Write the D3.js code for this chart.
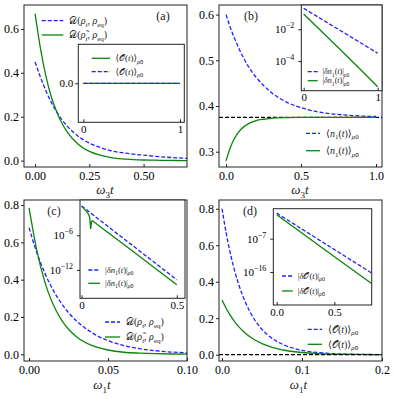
<!DOCTYPE html>
<html>
<head>
<meta charset="utf-8">
<script src="https://cdn.jsdelivr.net/npm/d3@7"></script>
<style>
  body { margin: 0; background: #fff; }
  text { font-family: "Liberation Serif", "DejaVu Serif", serif; }
</style>
</head>
<body>
<svg id="chart" width="396" height="399"></svg>
<script>
// ---- panel (a): trace distance, omega_3 t ----
const tA = [0, 0.025, 0.05, 0.075, 0.1, 0.125, 0.15, 0.2, 0.25, 0.3, 0.35, 0.4, 0.45, 0.5, 0.55, 0.6, 0.65, 0.7];
const distA = [0.45, 0.38, 0.318, 0.265, 0.222, 0.185, 0.155, 0.11, 0.08, 0.06, 0.045, 0.036, 0.03, 0.025, 0.02, 0.016, 0.013, 0.01];
const distTildeA = [0.67, 0.51, 0.385, 0.29, 0.222, 0.168, 0.128, 0.074, 0.042, 0.025, 0.014, 0.008, 0.005, 0.003, 0.002, 0.001, 0.0005, 0];
const insetTA = [0, 1];
const obsA = [0, 0];
const obsTildeA = [0, 0];

// ---- panel (b): <n1(t)>, omega_3 t ----
const tB = [0, 0.025, 0.05, 0.075, 0.1, 0.15, 0.2, 0.25, 0.3, 0.4, 0.5, 0.6, 0.7, 0.8, 0.9, 1.0];
const n1B = [0.6, 0.575, 0.553, 0.534, 0.516, 0.486, 0.463, 0.445, 0.43, 0.409, 0.3965, 0.388, 0.383, 0.38, 0.378, 0.377];
const n1TildeB = [0.28, 0.306, 0.325, 0.339, 0.349, 0.3615, 0.368, 0.371, 0.373, 0.3745, 0.375, 0.375, 0.375, 0.375, 0.375, 0.375];
const n1EqB = 0.375;
const insetTB = [0, 0.25, 0.5, 0.75, 1];
const dn1B = [0.21, 0.041, 0.0081, 0.0016, 3.1e-4];
const dn1TildeB = [0.092, 0.0067, 4.9e-4, 3.5e-5, 2.4e-6];

// ---- panel (c): trace distance, omega_1 t ----
const tC = [0, 0.005, 0.01, 0.015, 0.02, 0.025, 0.03, 0.04, 0.05, 0.06, 0.07, 0.08, 0.09, 0.1];
const distC = [0.678, 0.543, 0.435, 0.348, 0.279, 0.223, 0.179, 0.115, 0.073, 0.047, 0.03, 0.019, 0.012, 0.008];
const distTildeC = [0.785, 0.553, 0.387, 0.272, 0.191, 0.134, 0.094, 0.046, 0.023, 0.011, 0.006, 0.003, 0.0015, 0.0007];
const insetTC = [0, 0.1, 0.2, 0.3, 0.4, 0.5];
const dn1C = [0.12, 3.3e-4, 9.1e-7, 2.6e-9, 7.1e-12, 2.0e-14];
const insetTTildeC = [0, 0.01, 0.02, 0.03, 0.036, 0.042, 0.048, 0.052, 0.056, 0.06, 0.1, 0.2, 0.3, 0.4, 0.5];
const dn1TildeC = [0.1, 0.05, 0.022, 0.0089, 0.0043, 0.0016, 1.3e-5, 2e-4, 3.2e-4, 2.9e-4, 2.8e-5, 8.9e-8, 2.8e-10, 8.9e-13, 2.8e-15];

// ---- panel (d): <O(t)>, omega_1 t ----
const tD = [0, 0.005, 0.01, 0.015, 0.02, 0.03, 0.04, 0.05, 0.06, 0.08, 0.1, 0.12, 0.15, 0.2];
const obsD = [0.8, 0.672, 0.564, 0.473, 0.397, 0.28, 0.197, 0.139, 0.098, 0.049, 0.024, 0.012, 0.004, 0.0005];
const obsTildeD = [0.3, 0.256, 0.218, 0.186, 0.158, 0.115, 0.083, 0.061, 0.044, 0.023, 0.012, 0.006, 0.002, 0.0002];
const obsEqD = 0;
const insetTD = [0, 0.2, 0.4, 0.6, 0.82];
const dObsD = [0.8, 9.3e-5, 1.1e-8, 1.3e-12, 6.3e-17];
const dObsTildeD = [0.3, 9.1e-6, 2.8e-10, 8.3e-15, 8.9e-20];

const BLUE = '#1f1fff';
const GREEN = '#0a850a';
const INK = '#222';

const svg = d3.select('#chart');
svg.append('rect').attr('width', 396).attr('height', 399).attr('fill', '#fff');

let clipId = 0;

// rich text: parts are [string, mode], mode has 'i' italic, 's' subscript
function rich(sel, parts, size) {
  let down = false;
  parts.forEach(([s, m]) => {
    const sub = m.includes('s');
    const ts = sel.append('tspan').text(s);
    if (m.includes('i')) ts.attr('font-style', 'italic');
    if (sub) ts.attr('font-size', size * 0.7);
    if (sub && !down) { ts.attr('dy', size * 0.28); down = true; }
    else if (!sub && down) { ts.attr('dy', -size * 0.28); down = false; }
  });
}

function box(g, b) {
  g.append('rect')
    .attr('x', b.l).attr('y', b.t)
    .attr('width', b.r - b.l).attr('height', b.b - b.t)
    .attr('fill', 'none').attr('stroke', INK).attr('stroke-width', 1);
}

function clipFor(g, b) {
  const id = 'clip' + (clipId++);
  g.append('clipPath').attr('id', id).append('rect')
    .attr('x', b.l).attr('y', b.t).attr('width', b.r - b.l).attr('height', b.b - b.t);
  return g.append('g').attr('clip-path', `url(#${id})`);
}

function drawLine(g, x, y, xs, ys, color, dashed, curve) {
  const pts = xs.map((v, i) => [v, ys[i]]);
  g.append('path')
    .datum(pts)
    .attr('fill', 'none')
    .attr('stroke', color)
    .attr('stroke-width', 1.3)
    .attr('stroke-dasharray', dashed ? '4,2' : null)
    .attr('d', d3.line().x(d => x(d[0])).y(d => y(d[1])).curve(curve || d3.curveMonotoneX));
}

function hline(g, x, y, val, dom) {
  g.append('path')
    .datum(dom)
    .attr('fill', 'none').attr('stroke', '#000').attr('stroke-width', 1.3)
    .attr('stroke-dasharray', '4,2')
    .attr('d', d3.line().x(d => x(d)).y(() => y(val)));
}

function axes(g, b, x, y, o) {
  const fs = o.fs || 12;
  g.append('g')
    .attr('transform', `translate(0,${b.b})`)
    .call(d3.axisBottom(x).tickValues(o.xt).tickFormat(o.xf).tickSizeInner(-3).tickSizeOuter(0).tickPadding(o.xpad || 4))
    .call(a => a.select('.domain').remove())
    .call(a => a.selectAll('line').attr('stroke', INK))
    .attr('font-family', null).attr('font-size', fs).attr('fill', INK);
  const ya = g.append('g')
    .attr('transform', `translate(${b.l},0)`)
    .call(d3.axisLeft(y).tickValues(o.yt).tickFormat(o.log ? () => '' : o.yf).tickSizeInner(3).tickSizeOuter(0).tickPadding(o.ypad || 2))
    .call(a => a.select('.domain').remove())
    .call(a => a.selectAll('line').attr('stroke', INK))
    .attr('font-family', null).attr('font-size', fs).attr('fill', INK);
  if (o.log) {
    ya.selectAll('.tick text').each(function (d) {
      const t = d3.select(this);
      const e = Math.round(Math.log10(d));
      t.append('tspan').text('10');
      t.append('tspan').attr('dy', -fs * 0.45).attr('font-size', fs * 0.72).text('\u2212' + Math.abs(e));
    });
  }
}

function legend(g, items, x1, x2, y0, dy, fs) {
  items.forEach((it, i) => {
    const yy = y0 + i * dy;
    g.append('line').attr('x1', x1).attr('x2', x2).attr('y1', yy).attr('y2', yy)
      .attr('stroke', it.color).attr('stroke-width', 1.3)
      .attr('stroke-dasharray', it.dashed ? '4,2' : null);
    const t = g.append('text').attr('x', x2 + (fs * 0.6)).attr('y', yy + fs * 0.33)
      .attr('font-size', fs).attr('fill', INK);
    rich(t, it.label, fs);
  });
}

function tag(g, x, y, s) {
  g.append('text').attr('x', x).attr('y', y).attr('text-anchor', 'middle')
    .attr('dy', '0.35em').attr('font-size', 12).attr('fill', INK).text(s);
}

function xlabel(g, cx, y, idx) {
  const t = g.append('text').attr('x', cx).attr('y', y).attr('text-anchor', 'middle')
    .attr('font-size', 13).attr('fill', INK);
  rich(t, [['\u03c9', 'i'], [idx, 's'], ['t', 'i']], 13);
}

function insetBg(g, b) {
  g.append('rect').attr('x', b.l).attr('y', b.t).attr('width', b.r - b.l).attr('height', b.b - b.t).attr('fill', '#fff');
}

const rhoT = [['\u03c1', 'i'], ['t', 'si']];
const rhoTildeT = [['\u03c1\u0303', 'i'], ['t', 'si']];
const rhoEq = [['\u03c1', 'i'], ['eq', 's']];
const labD = [['\ud835\udc9f(', ''], ...rhoT, [', ', ''], ...rhoEq, [')', '']];
const labDTilde = [['\ud835\udc9f(', ''], ...rhoTildeT, [', ', ''], ...rhoEq, [')', '']];
const labO = [['\u27e8\ud835\udcaa(', ''], ['t', 'i'], [')\u27e9', ''], ['\u03c1', 'si'], ['0', 's']];
const labOTilde = [['\u27e8\ud835\udcaa(', ''], ['t', 'i'], [')\u27e9', ''], ['\u03c1\u0303', 'si'], ['0', 's']];
const labN = [['\u27e8', ''], ['n', 'i'], ['1', 's'], ['(', ''], ['t', 'i'], [')\u27e9', ''], ['\u03c1', 'si'], ['0', 's']];
const labNTilde = [['\u27e8', ''], ['n', 'i'], ['1', 's'], ['(', ''], ['t', 'i'], [')\u27e9', ''], ['\u03c1\u0303', 'si'], ['0', 's']];
const labDN = [['|', ''], ['\u03b4n', 'i'], ['1', 's'], ['(', ''], ['t', 'i'], [')|', ''], ['\u03c1', 'si'], ['0', 's']];
const labDNTilde = [['|', ''], ['\u03b4n', 'i'], ['1', 's'], ['(', ''], ['t', 'i'], [')|', ''], ['\u03c1\u0303', 'si'], ['0', 's']];
const labDO = [['|', ''], ['\u03b4', 'i'], ['\ud835\udcaa(', ''], ['t', 'i'], [')|', ''], ['\u03c1', 'si'], ['0', 's']];
const labDOTilde = [['|', ''], ['\u03b4', 'i'], ['\ud835\udcaa(', ''], ['t', 'i'], [')|', ''], ['\u03c1\u0303', 'si'], ['0', 's']];

const f1 = d3.format('.1f'), f2 = d3.format('.2f');

// ================= panel (a) =================
{
  const b = { l: 24, t: 5, r: 187, b: 167 };
  const x = d3.scaleLinear().domain([-0.051, 0.70]).range([b.l, b.r]);
  const y = d3.scaleLinear().domain([-0.029, 0.709]).range([b.b, b.t]);
  const g = svg.append('g');
  const c = clipFor(g, b);
  drawLine(c, x, y, tA, distA, BLUE, true);
  drawLine(c, x, y, tA, distTildeA, GREEN, false);
  axes(g, b, x, y, { xt: [0, 0.25, 0.5], xf: f2, yt: [0, 0.2, 0.4, 0.6], yf: f1 });
  box(g, b);
  legend(g, [{ color: BLUE, dashed: true, label: labD }, { color: GREEN, label: labDTilde }], 41.7, 63.3, 20.7, 14.3, 10);
  tag(g, 163, 16, '(a)');
  xlabel(g, 105, 194, '3');

  const ib = { l: 78.3, t: 44.3, r: 184.3, b: 122.3 };
  insetBg(g, ib);
  const ix = d3.scaleLinear().domain([-0.052, 1.045]).range([ib.l, ib.r]);
  const iy = d3.scaleLinear().domain([-0.04, 0.04]).range([ib.b, ib.t]);
  const ic = clipFor(g, ib);
  drawLine(ic, ix, iy, insetTA, obsTildeA, GREEN, false, d3.curveLinear);
  drawLine(ic, ix, iy, insetTA, obsA, BLUE, true, d3.curveLinear);
  axes(g, ib, ix, iy, { xt: [0, 1], xf: d3.format('d'), yt: [0], yf: f1, fs: 11, xpad: 3 });
  box(g, ib);
  legend(g, [{ color: GREEN, label: labOTilde }, { color: BLUE, dashed: true, label: labO }], 91.7, 110, 58.3, 13.4, 9);
}

// ================= panel (b) =================
{
  const b = { l: 219, t: 5, r: 382, b: 167 };
  const x = d3.scaleLinear().domain([-0.047, 1.04]).range([b.l, b.r]);
  const y = d3.scaleLinear().domain([0.2665, 0.621]).range([b.b, b.t]);
  const g = svg.append('g');
  const c = clipFor(g, b);
  hline(c, x, y, n1EqB, x.domain());
  drawLine(c, x, y, tB, n1B, BLUE, true);
  drawLine(c, x, y, tB, n1TildeB, GREEN, false);
  axes(g, b, x, y, { xt: [0, 0.5, 1], xf: f1, yt: [0.3, 0.4, 0.5, 0.6], yf: f1 });
  box(g, b);
  legend(g, [{ color: BLUE, dashed: true, label: labN }, { color: GREEN, label: labNTilde }], 306, 320, 133.3, 17.4, 10);
  tag(g, 251, 16, '(b)');
  xlabel(g, 300, 194, '3');

  const ib = { l: 301.3, t: 5, r: 382, b: 90.7 };
  insetBg(g, ib);
  const ix = d3.scaleLinear().domain([-0.032, 1.058]).range([ib.l, ib.r]);
  const iy = d3.scaleLog().domain([Math.pow(10, -5.87), Math.pow(10, -0.47)]).range([ib.b, ib.t]);
  const ic = clipFor(g, ib);
  drawLine(ic, ix, iy, insetTB, dn1B, BLUE, true, d3.curveLinear);
  drawLine(ic, ix, iy, insetTB, dn1TildeB, GREEN, false, d3.curveLinear);
  axes(g, ib, ix, iy, { xt: [0, 1], xf: d3.format('d'), yt: [1e-2, 1e-4], log: true, fs: 11, xpad: 3, ypad: 4 });
  box(g, ib);
  legend(g, [{ color: BLUE, dashed: true, label: labDN }, { color: GREEN, label: labDNTilde }], 307.7, 317.7, 71.7, 9, 8);
}

// ================= panel (c) =================
{
  const b = { l: 24, t: 200, r: 187, b: 361 };
  const x = d3.scaleLinear().domain([-0.0032, 0.1]).range([b.l, b.r]);
  const y = d3.scaleLinear().domain([-0.036, 0.827]).range([b.b, b.t]);
  const g = svg.append('g');
  const c = clipFor(g, b);
  drawLine(c, x, y, tC, distC, BLUE, true);
  drawLine(c, x, y, tC, distTildeC, GREEN, false);
  axes(g, b, x, y, { xt: [0, 0.05, 0.1], xf: f2, yt: [0, 0.2, 0.4, 0.6, 0.8], yf: f1 });
  box(g, b);
  legend(g, [{ color: BLUE, dashed: true, label: labD }, { color: GREEN, label: labDTilde }], 105, 120, 322, 15, 10);
  tag(g, 54, 211, '(c)');
  xlabel(g, 102, 389, '1');

  const ib = { l: 80, t: 200, r: 185, b: 298.3 };
  insetBg(g, ib);
  const ix = d3.scaleLinear().domain([-0.008, 0.543]).range([ib.l, ib.r]);
  const iy = d3.scaleLog().domain([Math.pow(10, -16.9), Math.pow(10, 0.1)]).range([ib.b, ib.t]);
  const ic = clipFor(g, ib);
  drawLine(ic, ix, iy, insetTC, dn1C, BLUE, true, d3.curveLinear);
  drawLine(ic, ix, iy, insetTTildeC, dn1TildeC, GREEN, false, d3.curveLinear);
  axes(g, ib, ix, iy, { xt: [0, 0.5], xf: d => d === 0 ? '0' : '0.5', yt: [1e-6, 1e-12], log: true, fs: 11, xpad: 3, ypad: 4 });
  box(g, ib);
  legend(g, [{ color: BLUE, dashed: true, label: labDN }, { color: GREEN, label: labDNTilde }], 88.3, 100, 270, 13.3, 8.5);
}

// ================= panel (d) =================
{
  const b = { l: 219, t: 200, r: 382, b: 361 };
  const x = d3.scaleLinear().domain([-0.00375, 0.2]).range([b.l, b.r]);
  const y = d3.scaleLinear().domain([-0.0345, 0.848]).range([b.b, b.t]);
  const g = svg.append('g');
  const c = clipFor(g, b);
  drawLine(c, x, y, tD, obsD, BLUE, true);
  drawLine(c, x, y, tD, obsTildeD, GREEN, false);
  hline(c, x, y, obsEqD, x.domain());
  axes(g, b, x, y, { xt: [0, 0.1, 0.2], xf: f1, yt: [0, 0.2, 0.4, 0.6, 0.8], yf: f1 });
  box(g, b);
  legend(g, [{ color: BLUE, dashed: true, label: labO }, { color: GREEN, label: labOTilde }], 307.7, 322, 329.3, 15, 10);
  tag(g, 250, 211, '(d)');
  xlabel(g, 298.5, 389, '1');

  const ib = { l: 273.3, t: 208.7, r: 371.7, b: 305 };
  insetBg(g, ib);
  const ix = d3.scaleLinear().domain([-0.0295, 0.824]).range([ib.l, ib.r]);
  const iy = d3.scaleLog().domain([Math.pow(10, -24.9), Math.pow(10, 1.1)]).range([ib.b, ib.t]);
  const ic = clipFor(g, ib);
  drawLine(ic, ix, iy, insetTD, dObsD, BLUE, true, d3.curveLinear);
  drawLine(ic, ix, iy, insetTD, dObsTildeD, GREEN, false, d3.curveLinear);
  axes(g, ib, ix, iy, { xt: [0, 0.5], xf: f1, yt: [1e-7, 1e-16], log: true, fs: 11, xpad: 3, ypad: 4 });
  box(g, ib);
  legend(g, [{ color: BLUE, dashed: true, label: labDO }, { color: GREEN, label: labDOTilde }], 282, 292.7, 276, 15, 8.5);
}
</script>
</body>
</html>
